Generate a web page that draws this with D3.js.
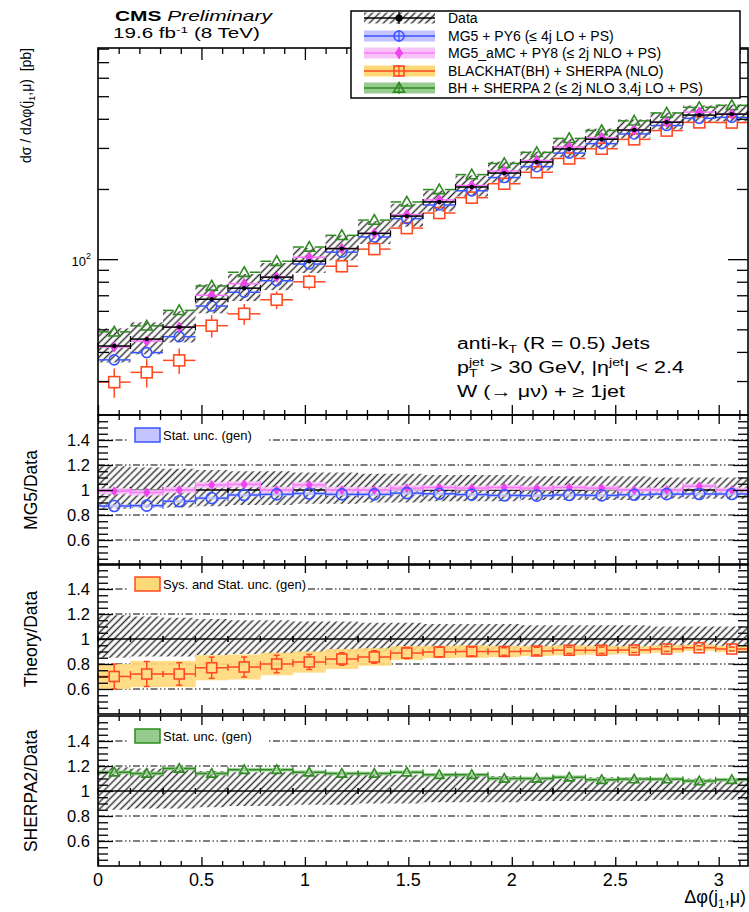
<!DOCTYPE html>
<html>
<head>
<script src="https://d3js.org/d3.v7.min.js"></script>
<style>
  body { margin: 0; background: #fff; }
  text { font-family: "Liberation Sans", Arial, sans-serif; fill: #000; white-space: pre; }
</style>
</head>
<body>
<script>
// bin edges in delta phi (20 bins from 0 to pi)
var binEdges = [0, 0.157, 0.314, 0.471, 0.628, 0.785, 0.942, 1.100, 1.257, 1.414, 1.571,
                1.728, 1.885, 2.042, 2.199, 2.356, 2.513, 2.670, 2.827, 2.985, 3.1416];

// measured cross section [pb] and its relative uncertainty
var dataXsec  = [42.4, 45.4, 51.1, 67.3, 75.1, 83.7, 98, 111, 129, 153,
                 176, 204, 234, 261, 297, 327, 358, 387, 415, 419];
var dataErrUp = [0.19, 0.18, 0.17, 0.16, 0.15, 0.15, 0.14, 0.14, 0.13, 0.13,
                 0.12, 0.12, 0.12, 0.11, 0.11, 0.11, 0.11, 0.10, 0.10, 0.10];
var dataErrDn = [0.15, 0.14, 0.14, 0.13, 0.12, 0.12, 0.11, 0.11, 0.10, 0.10,
                 0.09, 0.09, 0.09, 0.08, 0.08, 0.08, 0.08, 0.07, 0.07, 0.07];

// theory / data ratios
var mg5Ratio = [0.872, 0.875, 0.91, 0.935, 0.96, 0.965, 0.972, 0.965, 0.965, 0.975,
                0.97, 0.963, 0.957, 0.955, 0.96, 0.957, 0.962, 0.967, 0.968, 0.968];
var mg5Band  = [0.012, 0.012, 0.012, 0.012, 0.012, 0.012, 0.012, 0.012, 0.012, 0.012,
                0.012, 0.012, 0.012, 0.012, 0.012, 0.012, 0.012, 0.012, 0.012, 0.012];
var amcRatio = [0.99, 0.98, 1.0, 1.04, 1.045, 1.0, 1.04, 1.0, 1.0, 1.015,
                1.02, 1.015, 1.02, 1.015, 1.02, 1.015, 1.0, 1.0, 1.03, 1.0];
var amcBand  = [0.025, 0.025, 0.025, 0.025, 0.025, 0.025, 0.025, 0.025, 0.025, 0.025,
                0.02, 0.02, 0.02, 0.02, 0.02, 0.02, 0.02, 0.02, 0.02, 0.02];
var bhRatio  = [0.70, 0.72, 0.72, 0.77, 0.776, 0.80, 0.816, 0.84, 0.856, 0.888,
                0.896, 0.90, 0.90, 0.904, 0.91, 0.91, 0.912, 0.92, 0.93, 0.92];
var bhStat   = [0.10, 0.10, 0.09, 0.085, 0.08, 0.07, 0.06, 0.05, 0.05, 0.045,
                0.04, 0.035, 0.03, 0.03, 0.025, 0.025, 0.02, 0.02, 0.015, 0.015];
var bhSys    = [0.10, 0.105, 0.105, 0.10, 0.10, 0.09, 0.085, 0.08, 0.07, 0.055,
                0.05, 0.05, 0.045, 0.04, 0.04, 0.035, 0.03, 0.03, 0.025, 0.025];
var sh2Ratio = [1.15, 1.14, 1.18, 1.14, 1.17, 1.17, 1.15, 1.14, 1.14, 1.15,
                1.13, 1.13, 1.10, 1.10, 1.11, 1.09, 1.095, 1.095, 1.08, 1.09];
var sh2Band  = [0.015, 0.015, 0.015, 0.015, 0.015, 0.015, 0.015, 0.015, 0.015, 0.015,
                0.015, 0.015, 0.015, 0.015, 0.015, 0.015, 0.015, 0.015, 0.015, 0.015];

var xMajorTicks = [0, 0.5, 1, 1.5, 2, 2.5, 3];
var xTickLabels = ['0', '0.5', '1', '1.5', '2', '2.5', '3'];
var xMinorTicks = [0.1, 0.2, 0.3, 0.4, 0.6, 0.7, 0.8, 0.9, 1.1, 1.2, 1.3, 1.4, 1.6, 1.7, 1.8, 1.9,
                   2.1, 2.2, 2.3, 2.4, 2.6, 2.7, 2.8, 2.9, 3.1];
var logMinorTicks = [30, 40, 50, 60, 70, 80, 90, 200, 300, 400, 500, 600, 700, 800];
var ratioMajor = [0.6, 0.8, 1, 1.2, 1.4];
var ratioTickLabels = ['0.6', '0.8', '1', '1.2', '1.4'];
var ratioMinor = [0.45, 0.5, 0.55, 0.65, 0.7, 0.75, 0.85, 0.9, 0.95, 1.05, 1.1, 1.15,
                  1.25, 1.3, 1.35, 1.45, 1.5, 1.55];
var ratioGrid = [0.6, 0.8, 1.2, 1.4];

var legendLabels = ['Data', 'MG5 + PY6 (\u2264 4j LO + PS)', 'MG5_aMC + PY8 (\u2264 2j NLO + PS)',
                    'BLACKHAT(BH) + SHERPA (NLO)', 'BH + SHERPA 2 (\u2264 2j NLO 3,4j LO + PS)'];
var ratioTitles = ['MG5/Data', 'Theory/Data', 'SHERPA2/Data'];
var ratioLegend = ['Stat. unc. (gen)', 'Sys. and Stat. unc. (gen)', 'Stat. unc. (gen)'];

var col = {
  blue: '#3a55ff', blueBand: '#c4c4ff',
  mag: '#ee44ee', magLine: '#ff77ff', magBand: '#f8c4f8',
  red: '#ff4a22', redBand: '#ffd878',
  green: '#2f8a22', greenBand: '#96cc8e'
};

var svg = d3.select('body').append('svg')
  .attr('width', 749).attr('height', 912);

var defs = svg.append('defs');
defs.append('pattern')
  .attr('id', 'hatch')
  .attr('patternUnits', 'userSpaceOnUse')
  .attr('width', 5).attr('height', 5)
  .attr('patternTransform', 'rotate(45)')
  .append('line')
    .attr('x1', 2.5).attr('y1', 0).attr('x2', 2.5).attr('y2', 5)
    .attr('stroke', '#333').attr('stroke-width', 1.5);

var xL = 98, xR = 748;
var x = d3.scaleLinear().domain([0, Math.PI]).range([xL, xR]);
var mainTop = 48, mainBot = 415;
var yMain = d3.scaleLog().domain([21.45, 805]).range([mainBot, mainTop]);
var ratioTops = [415, 564, 716], ratioH = 150;
var yR = ratioTops.map(function(t) {
  return d3.scaleLinear().domain([0.4, 1.6]).range([t + ratioH, t]);
});

var bins = dataXsec.map(function(v, i) {
  return { lo: binEdges[i], hi: binEdges[i + 1], c: (binEdges[i] + binEdges[i + 1]) / 2 };
});

/** markers **/
function marker(g, type, cx, cy, s, color) {
  if (type === 'circle') {
    g.append('circle').attr('cx', cx).attr('cy', cy).attr('r', s)
      .attr('fill', 'none').attr('stroke', color).attr('stroke-width', 1.6);
  } else if (type === 'square') {
    g.append('rect').attr('x', cx - s).attr('y', cy - s).attr('width', 2 * s).attr('height', 2 * s)
      .attr('fill', 'none').attr('stroke', color).attr('stroke-width', 1.6);
  } else if (type === 'triangle') {
    g.append('path')
      .attr('d', 'M' + cx + ',' + (cy - s) + 'L' + (cx + s) + ',' + (cy + s * 0.75) + 'L' + (cx - s) + ',' + (cy + s * 0.75) + 'Z')
      .attr('fill', 'none').attr('stroke', color).attr('stroke-width', 1.6);
  } else if (type === 'diamond') {
    g.append('path')
      .attr('d', 'M' + cx + ',' + (cy - s * 1.15) + 'L' + (cx + s * 0.8) + ',' + cy + 'L' + cx + ',' + (cy + s * 1.15) + 'L' + (cx - s * 0.8) + ',' + cy + 'Z')
      .attr('fill', color).attr('stroke', color).attr('stroke-width', 1);
  } else if (type === 'dot') {
    g.append('circle').attr('cx', cx).attr('cy', cy).attr('r', s).attr('fill', color);
  }
}

function line(g, x1, y1, x2, y2, color, w) {
  return g.append('line').attr('x1', x1).attr('y1', y1).attr('x2', x2).attr('y2', y2)
    .attr('stroke', color).attr('stroke-width', w || 1.5);
}

// points with x bars (end ticks), optional vertical errors
function drawPoints(g, yScale, vals, opt) {
  vals.forEach(function(v, i) {
    var b = bins[i];
    var cx = x(b.c), cy = yScale(v), x0 = x(b.lo), x1 = x(b.hi);
    var gap = opt.gap;
    line(g, x0, cy, cx - gap, cy, opt.line || opt.color, 1.5);
    line(g, cx + gap, cy, x1, cy, opt.line || opt.color, 1.5);
    if (opt.tick) {
      line(g, x0, cy - opt.tick, x0, cy + opt.tick, opt.line || opt.color, 1.2);
      line(g, x1, cy - opt.tick, x1, cy + opt.tick, opt.line || opt.color, 1.2);
    }
    if (opt.err) {
      var yu = yScale(opt.err.up[i]), yd = yScale(opt.err.dn[i]);
      if (yu < cy - gap) line(g, cx, yu, cx, cy - gap, opt.color, 1.5);
      if (yd > cy + gap) line(g, cx, cy + gap, cx, yd, opt.color, 1.5);
      if (opt.cap) {
        line(g, cx - opt.cap, yu, cx + opt.cap, yu, opt.color, 1.5);
        line(g, cx - opt.cap, yd, cx + opt.cap, yd, opt.color, 1.5);
      }
    }
    marker(g, opt.marker, cx, cy, opt.size, opt.color);
  });
}

function drawBand(g, yScale, lo, hi, fill, opacity) {
  g.selectAll(null).data(bins).enter().append('rect')
    .attr('x', function(d) { return x(d.lo); })
    .attr('width', function(d) { return x(d.hi) - x(d.lo) + 0.3; })
    .attr('y', function(d, i) { return yScale(hi[i]); })
    .attr('height', function(d, i) { return yScale(lo[i]) - yScale(hi[i]); })
    .attr('fill', fill).attr('opacity', opacity === undefined ? 1 : opacity);
}

function tickAxis(g, axis, transform) {
  var a = g.append('g').attr('transform', transform).call(axis);
  a.select('.domain').remove();
  a.selectAll('.tick line').attr('stroke', '#000').attr('stroke-width', 1.3);
  a.selectAll('.tick text').remove();
}

function frameTicks(g, top, bot, yScale, yMajor, yMinor, xMaj, xMin, yMajLen, yMinLen, xTopLen, xBotLen) {
  [[xMajorTicks, xMaj], [xMinorTicks, xMin]].forEach(function(p) {
    tickAxis(g, d3.axisTop(x).tickValues(p[0]).tickSize(-p[1] * xTopLen), 'translate(0,' + top + ')');
    tickAxis(g, d3.axisBottom(x).tickValues(p[0]).tickSize(-p[1] * xBotLen), 'translate(0,' + bot + ')');
  });
  [[yMajor, yMajLen], [yMinor, yMinLen]].forEach(function(p) {
    tickAxis(g, d3.axisLeft(yScale).tickValues(p[0]).tickSize(-p[1]), 'translate(' + xL + ',0)');
    tickAxis(g, d3.axisRight(yScale).tickValues(p[0]).tickSize(-p[1]), 'translate(' + xR + ',0)');
  });
  g.append('rect').attr('x', xL).attr('y', top).attr('width', xR - xL).attr('height', bot - top)
    .attr('fill', 'none').attr('stroke', '#000').attr('stroke-width', 1.6);
}

// rich text made of pieces (sup / sub / stacked)
function richText(g, parts, size) {
  var cx = 0, lastStart = 0;
  parts.forEach(function(p) {
    var fs = (p.sup || p.sub) ? size * 0.66 : size;
    var dy = p.sup ? -size * (p.raise || 0.45) : (p.sub ? size * 0.28 : 0);
    var px = p.stack ? lastStart : cx;
    var t = g.append('text').attr('x', px).attr('y', dy).attr('font-size', fs).text(p.t);
    if (p.bold) t.attr('font-weight', 'bold');
    if (p.italic) t.attr('font-style', 'italic');
    var w = t.node().getComputedTextLength();
    if (p.stack) { cx = Math.max(cx, px + w); }
    else { lastStart = px; cx = px + w; }
  });
  return cx;
}

function fitted(parts, size, x0, y0, width) {
  var g = svg.append('g');
  var w = richText(g, parts, size);
  var sx = width ? width / w : 1;
  g.attr('transform', 'translate(' + x0 + ',' + y0 + ') scale(' + sx + ',1)');
  return g;
}

/** ================= main panel ================= **/
var gm = svg.append('g');

// data hatch
gm.selectAll(null).data(bins).enter().append('rect')
  .attr('x', function(d) { return x(d.lo); })
  .attr('width', function(d) { return x(d.hi) - x(d.lo); })
  .attr('y', function(d, i) { return yMain(dataXsec[i] * (1 + dataErrUp[i])); })
  .attr('height', function(d, i) {
    return yMain(dataXsec[i] * (1 - dataErrDn[i])) - yMain(dataXsec[i] * (1 + dataErrUp[i]));
  })
  .attr('fill', 'url(#hatch)');

var mg5Xsec = dataXsec.map(function(v, i) { return v * mg5Ratio[i]; });
var amcXsec = dataXsec.map(function(v, i) { return v * amcRatio[i]; });
var bhXsec  = dataXsec.map(function(v, i) { return v * bhRatio[i]; });
var sh2Xsec = dataXsec.map(function(v, i) { return v * sh2Ratio[i]; });

drawPoints(gm, yMain, bhXsec, { color: col.red, marker: 'square', size: 5.5, gap: 5.5, tick: 0,
  err: { up: bhXsec.map(function(v, i) { return v * (1 + bhStat[i] / bhRatio[i]); }),
         dn: bhXsec.map(function(v, i) { return v * (1 - bhStat[i] / bhRatio[i]); }) } });
drawPoints(gm, yMain, mg5Xsec, { color: col.blue, marker: 'circle', size: 5, gap: 5, tick: 0 });
drawPoints(gm, yMain, sh2Xsec, { color: col.green, marker: 'triangle', size: 5.5, gap: 5.5, tick: 0 });
drawPoints(gm, yMain, amcXsec, { color: col.mag, line: col.magLine, marker: 'diamond', size: 4.5, gap: 0, tick: 0 });
drawPoints(gm, yMain, dataXsec, { color: '#000', marker: 'dot', size: 2.2, gap: 0, tick: 3 });

frameTicks(gm, mainTop, mainBot, yMain, [100], logMinorTicks, 1, 0.5, 20, 11, 12, 10);

// y labels
gm.append('text').attr('x', 86).attr('y', 266).attr('font-size', 13)
  .attr('text-anchor', 'end').text('10');
gm.append('text').attr('x', 86).attr('y', 259).attr('font-size', 9).text('2');

var yt = svg.append('g');
var ytw = richText(yt, [{ t: 'd\u03c3 / d\u0394\u03c6(j' }, { t: '1', sub: true }, { t: ',\u03bc)  [pb]' }], 14);
yt.attr('transform', 'translate(31,' + (48 + ytw) + ') rotate(-90)');

// CMS label
fitted([{ t: 'CMS ', bold: true }, { t: 'Preliminary', italic: true }], 14, 115, 21, 157);
fitted([{ t: '19.6 fb' }, { t: '-1', sup: true, raise: 0.36 }, { t: ' (8 TeV)' }], 14, 113, 38, 147);

// annotations
fitted([{ t: 'anti-k' }, { t: 'T', sub: true }, { t: ' (R = 0.5) Jets' }], 16, 457, 349, 193);
fitted([{ t: 'p' }, { t: 'jet', sup: true }, { t: 'T', sub: true, stack: true },
        { t: ' > 30 GeV, |\u03b7' }, { t: 'jet', sup: true }, { t: '| < 2.4' }], 16, 457, 373, 227);
fitted([{ t: 'W (\u2192 \u03bc\u03bd) + \u2265 1jet' }], 16, 457, 397, 168);

// legend
var lg = svg.append('g');
lg.append('rect').attr('x', 351).attr('y', 11).attr('width', 389).attr('height', 87)
  .attr('fill', '#fff').attr('stroke', '#000').attr('stroke-width', 1.5);
var rowY = [18, 36, 53, 71, 88];
var legStyle = [
  { band: 'url(#hatch)', color: '#000', marker: 'dot', size: 3.5 },
  { band: col.blueBand, color: col.blue, marker: 'circle', size: 5 },
  { band: col.magBand, color: col.mag, line: col.magLine, marker: 'diamond', size: 4.5 },
  { band: col.redBand, color: col.red, marker: 'square', size: 5 },
  { band: col.greenBand, color: col.green, marker: 'triangle', size: 5.5 }
];
legendLabels.forEach(function(label, i) {
  var s = legStyle[i], y = rowY[i];
  lg.append('rect').attr('x', 364).attr('y', y - 5.5).attr('width', 71).attr('height', 11).attr('fill', s.band);
  line(lg, 364, y, 435, y, s.line || s.color, 1.5);
  line(lg, 399, y - 6, 399, y + 6, s.color, 1.3);
  marker(lg, s.marker, 399, y, s.size, s.color);
  lg.append('text').attr('x', 448).attr('y', y + 5).attr('font-size', 14).text(label);
});

/** ================= ratio panels ================= **/
var ones = bins.map(function() { return 1; });

ratioTops.forEach(function(top, p) {
  var y = yR[p];
  var g = svg.append('g');

  ratioGrid.forEach(function(v) {
    line(g, xL, y(v), xR, y(v), '#000', 1.1).attr('stroke-dasharray', '7,2.5,1.5,2.5,1.5,2.5');
  });

  // data uncertainty
  g.selectAll(null).data(bins).enter().append('rect')
    .attr('x', function(d) { return x(d.lo); })
    .attr('width', function(d) { return x(d.hi) - x(d.lo); })
    .attr('y', function(d, i) { return y(1 + dataErrUp[i]); })
    .attr('height', function(d, i) { return y(1 - dataErrDn[i]) - y(1 + dataErrUp[i]); })
    .attr('fill', 'url(#hatch)');

  // data at one
  drawPoints(g, y, ones, { color: '#000', marker: 'dot', size: 0.1, gap: 0, tick: 3 });

  if (p === 0) {
    drawBand(g, y, mg5Ratio.map(function(v, i) { return v - mg5Band[i]; }),
                   mg5Ratio.map(function(v, i) { return v + mg5Band[i]; }), col.blueBand, 0.8);
    drawBand(g, y, amcRatio.map(function(v, i) { return v - amcBand[i]; }),
                   amcRatio.map(function(v, i) { return v + amcBand[i]; }), col.magBand, 0.85);
    drawPoints(g, y, amcRatio, { color: col.mag, line: col.magLine, marker: 'diamond', size: 3.8, gap: 0, tick: 3 });
    drawPoints(g, y, mg5Ratio, { color: col.blue, marker: 'circle', size: 5.5, gap: 5.5, tick: 3 });
  } else if (p === 1) {
    drawBand(g, y, bhRatio.map(function(v, i) { return v - bhSys[i]; }),
                   bhRatio.map(function(v, i) { return v + bhSys[i]; }), col.redBand, 0.9);
    drawPoints(g, y, bhRatio, { color: col.red, marker: 'square', size: 5, gap: 5, tick: 3, cap: 3,
      err: { up: bhRatio.map(function(v, i) { return v + bhStat[i]; }),
             dn: bhRatio.map(function(v, i) { return v - bhStat[i]; }) } });
  } else {
    drawBand(g, y, sh2Ratio.map(function(v, i) { return v - sh2Band[i]; }),
                   sh2Ratio.map(function(v, i) { return v + sh2Band[i]; }), col.greenBand, 0.9);
    drawPoints(g, y, sh2Ratio, { color: col.green, marker: 'triangle', size: 4.8, gap: 4.5, tick: 3 });
  }

  // small legend
  var legW = p === 1 ? 180 : 140;
  var ly = top + 20;
  g.append('rect').attr('x', 128).attr('y', ly - 10).attr('width', legW).attr('height', 20).attr('fill', '#fff');
  var boxFill = [col.blueBand, col.redBand, col.greenBand][p];
  var boxStroke = [col.blue, col.red, col.green][p];
  g.append('rect').attr('x', 135).attr('y', ly - 7).attr('width', 25).attr('height', 14)
    .attr('fill', boxFill).attr('stroke', boxStroke).attr('stroke-width', 1.5);
  g.append('text').attr('x', 163).attr('y', ly + 5).attr('font-size', 13).text(ratioLegend[p]);

  frameTicks(g, top, top + ratioH, y, ratioMajor, ratioMinor, 1, 0.55, 15, 10, 9, 9);

  ratioMajor.forEach(function(v, k) {
    g.append('text').attr('x', 90).attr('y', y(v) + 6).attr('font-size', 16.5)
      .attr('text-anchor', 'end').text(ratioTickLabels[k]);
  });

  g.append('text')
    .attr('transform', 'translate(37,' + y(1) + ') rotate(-90)')
    .attr('text-anchor', 'middle').attr('font-size', 17.5).text(ratioTitles[p]);
});

// x tick labels
svg.append('g').selectAll('text').data(xMajorTicks).enter().append('text')
  .attr('x', function(d) { return x(d); })
  .attr('y', 886)
  .attr('text-anchor', 'middle')
  .attr('font-size', 18)
  .text(function(d, i) { return xTickLabels[i]; });

// x title
var xt = svg.append('g');
var xtw = richText(xt, [{ t: '\u0394\u03c6(j' }, { t: '1', sub: true }, { t: ',\u03bc)' }], 18);
xt.attr('transform', 'translate(' + (746 - xtw) + ',903)');
</script>
</body>
</html>
